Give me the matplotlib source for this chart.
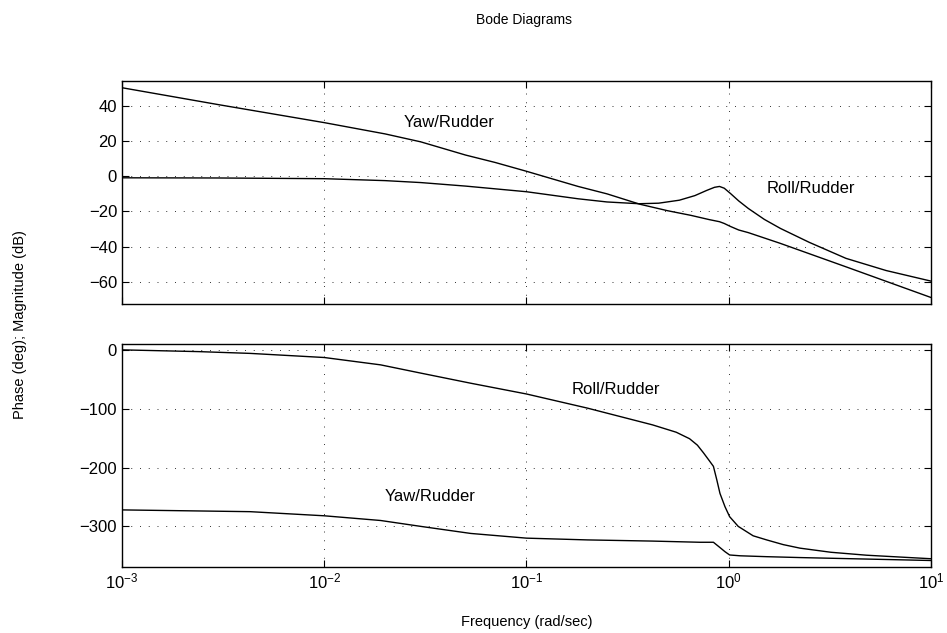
import matplotlib
matplotlib.use("Agg")
from matplotlib import pyplot as plt
from matplotlib.ticker import LogLocator, NullLocator, NullFormatter

plt.rcParams['font.family'] = ['Liberation Sans', 'DejaVu Sans']
plt.rcParams['mathtext.default'] = 'regular'

# magnitude (dB)
w_roll_mag = [0.001, 0.003, 0.01, 0.02, 0.03, 0.05, 0.1, 0.18, 0.25, 0.36, 0.45, 0.57,
              0.68, 0.78, 0.85, 0.9, 0.95, 1.02, 1.12, 1.25, 1.5, 1.8, 2.5, 3.8, 6.0, 10]
roll_mag = [-0.9, -1.0, -1.4, -2.5, -3.6, -5.6, -8.8, -12.8, -14.6, -15.6, -15.3, -13.6,
            -11.0, -8.0, -6.3, -5.8, -6.8, -9.8, -14.0, -18.3, -24.5, -29.6, -37.5, -46.6, -53.5, -59.5]

w_yaw_mag = [0.001, 0.003, 0.01, 0.02, 0.03, 0.05, 0.07, 0.1, 0.18, 0.25, 0.364, 0.5, 0.65,
             0.8, 0.9, 0.95, 1.02, 1.12, 1.25, 1.8, 3.8, 10]
yaw_mag = [50.2, 40.6, 30.4, 24.0, 19.5, 12.0, 7.8, 2.8, -5.8, -10.0, -15.9, -19.6, -22.2,
           -24.6, -25.8, -26.8, -28.5, -30.5, -32.0, -38.1, -51.4, -68.8]

# phase (deg)
w_roll_ph = [0.001, 0.0024, 0.0043, 0.01, 0.019, 0.03, 0.053, 0.1, 0.2, 0.42, 0.55, 0.64, 0.7,
             0.75, 0.8, 0.84, 0.873, 0.905, 0.958, 1.01, 1.114, 1.32, 1.54, 1.86, 2.25, 3.2, 4.8, 10]
roll_ph = [0, -3, -6, -13, -25.5, -39.5, -56.7, -75, -99, -127.5, -140, -151, -162,
           -175, -188, -198, -221, -244, -266.5, -283.5, -300, -316, -323, -331, -337, -344, -349, -355]

w_yaw_ph = [0.001, 0.0043, 0.01, 0.019, 0.03, 0.053, 0.1, 0.2, 0.42, 0.72, 0.84, 0.905,
            0.958, 1.01, 1.14, 1.54, 2.25, 10]
yaw_ph = [-272, -275, -282, -290, -300, -312, -320, -323, -325, -327, -327, -336,
          -343, -348.6, -350, -351.5, -353, -358]

fig = plt.figure(figsize=(9.47, 6.33), dpi=100)
ax1 = fig.add_axes([0.1288, 0.5197, 0.8543, 0.3523])
ax2 = fig.add_axes([0.1288, 0.1043, 0.8543, 0.3523])

ax1.plot(w_roll_mag, roll_mag, c='black', lw=1.0)
ax1.plot(w_yaw_mag, yaw_mag, c='black', lw=1.0)
ax2.plot(w_roll_ph, roll_ph, c='black', lw=1.0)
ax2.plot(w_yaw_ph, yaw_ph, c='black', lw=1.0)

for ax in (ax1, ax2):
    ax.set_xscale('log')
    ax.set_xlim(1e-3, 10)
    ax.xaxis.set_major_locator(LogLocator(base=10, numticks=10))
    ax.xaxis.set_minor_locator(NullLocator())
    ax.grid(True, which='major', color='#333333', linestyle=(0, (1, 8)), lw=0.7)
    ax.tick_params(direction='in', top=True, right=True, labelsize=12, length=5, width=0.8)
    for s in ax.spines.values():
        s.set_linewidth(1.0)

ax1.set_ylim(-72.5, 54)
ax1.set_yticks([-60, -40, -20, 0, 20, 40])
ax1.xaxis.set_major_formatter(NullFormatter())

ax2.set_ylim(-369, 10)
ax2.set_yticks([-300, -200, -100, 0])

ax1.text(0.0414, 30.2, 'Yaw/Rudder', ha='center', va='center', fontsize=12)
ax1.text(2.55, -7, 'Roll/Rudder', ha='center', va='center', fontsize=12)
ax2.text(0.277, -67, 'Roll/Rudder', ha='center', va='center', fontsize=12)
ax2.text(0.0333, -250, 'Yaw/Rudder', ha='center', va='center', fontsize=12)

fig.text(0.553, 1 - 20 / 633, 'Bode Diagrams', ha='center', va='center', fontsize=10)
fig.text(0.556, 1 - 622 / 633, 'Frequency (rad/sec)', ha='center', va='center', fontsize=10.5)
fig.text(20 / 947, 1 - 325 / 633, 'Phase (deg); Magnitude (dB)', ha='center', va='center',
         rotation=90, fontsize=10.5)

fig.savefig('out.png', dpi=100)
